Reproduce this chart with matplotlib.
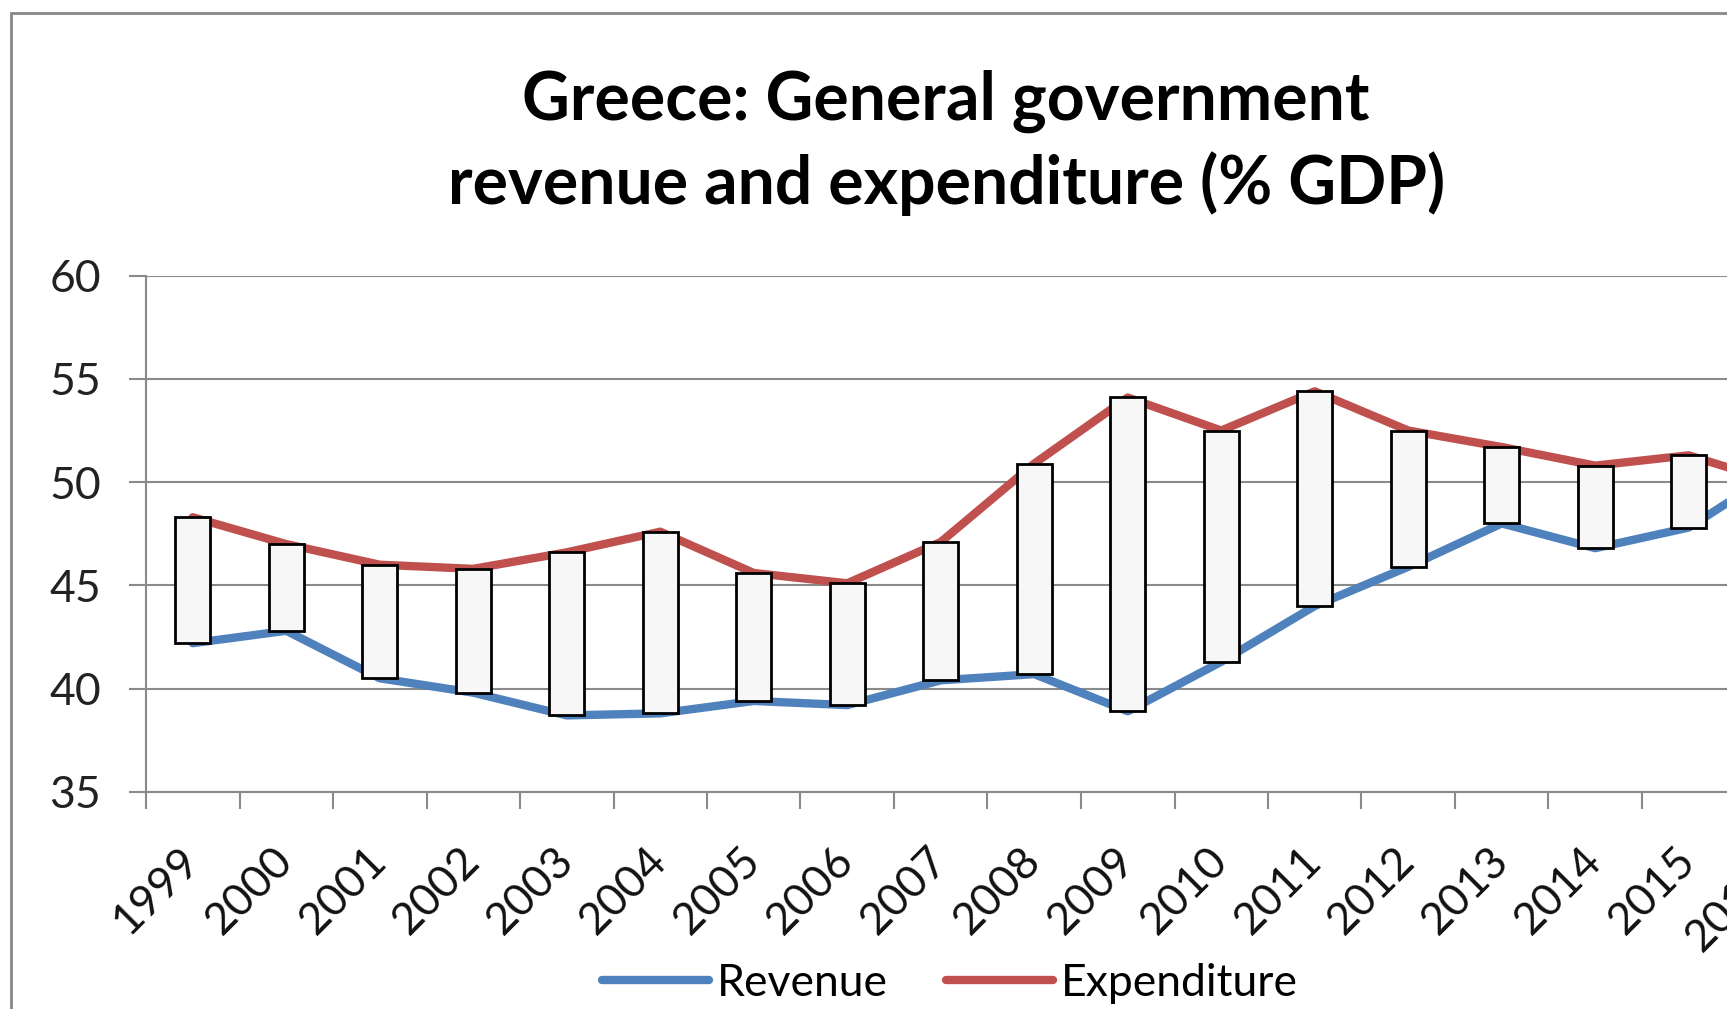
import numpy as np
import matplotlib
matplotlib.use("Agg")
import matplotlib.pyplot as plt
from matplotlib.patches import Rectangle
from matplotlib.ticker import FixedLocator, NullFormatter

# General government revenue and expenditure, % of GDP
years = ["1999", "2000", "2001", "2002", "2003", "2004", "2005", "2006", "2007",
         "2008", "2009", "2010", "2011", "2012", "2013", "2014", "2015", "2016e"]
revenue = [42.2, 42.8, 40.5, 39.8, 38.7, 38.8, 39.4, 39.2, 40.4,
           40.7, 38.9, 41.3, 44.0, 45.9, 48.0, 46.8, 47.8, 50.7]
expenditure = [48.3, 47.0, 46.0, 45.8, 46.6, 47.6, 45.6, 45.1, 47.1,
               50.9, 54.1, 52.5, 54.4, 52.5, 51.7, 50.8, 51.3, 49.9]

W, H = 1727, 1009
BLUE = "#4F81BD"
RED = "#C0504D"
GRID = "#8a8a8a"
FONT = "Lato"

plt.rcParams["font.family"] = [FONT, "DejaVu Sans"]

fig = plt.figure(figsize=(W / 100, H / 100), dpi=100)
fig.patch.set_facecolor("white")

# plot area (extends past the right edge of the canvas)
left_px, top_px, bottom_px = 146, 275.7, 791.8
slot_px = 93.5
ax = fig.add_axes([left_px / W, 1 - bottom_px / H,
                   slot_px * len(years) / W, (bottom_px - top_px) / H])

x = np.arange(len(years))
rev = np.array(revenue)
exp_ = np.array(expenditure)

ax.plot(x, rev, color=BLUE, lw=6.0, solid_joinstyle="round",
        solid_capstyle="round", zorder=3, label="Revenue")
ax.plot(x, exp_, color=RED, lw=6.0, solid_joinstyle="round",
        solid_capstyle="round", zorder=3, label="Expenditure")

# up/down bars between the two series
lo = np.minimum(rev, exp_)
hi = np.maximum(rev, exp_)
ax.bar(x, hi - lo, bottom=lo, width=0.37, color="#f7f7f7",
       edgecolor="black", linewidth=2.0, zorder=4)

ax.set_xlim(-0.5, len(years) - 0.5)
ax.set_ylim(35, 60)
ax.set_yticks([35, 40, 45, 50, 55, 60])
ax.yaxis.grid(True, color=GRID, lw=1.5)
ax.set_axisbelow(True)

for s in ["top", "right"]:
    ax.spines[s].set_visible(False)
for s in ["left", "bottom"]:
    ax.spines[s].set_color(GRID)
    ax.spines[s].set_linewidth(1.5)

ax.tick_params(axis="y", direction="out", length=12.5, width=1.5, color=GRID,
               labelsize=32, labelcolor="#222222", pad=20)

ax.set_xticks(x)
ax.set_xticklabels(years, rotation=45, ha="right", va="center",
                   rotation_mode="anchor", fontsize=32, color="#111111")
ax.tick_params(axis="x", which="major", length=0, pad=45)
ax.xaxis.set_minor_locator(FixedLocator(np.arange(-0.5, len(years), 1.0)))
ax.xaxis.set_minor_formatter(NullFormatter())
ax.tick_params(axis="x", which="minor", direction="out", length=12, width=1.5,
               color=GRID)

# title
fig.text(946 / W, 1 - 120 / H, "Greece: General government", ha="center",
         va="baseline", fontsize=47.5, fontweight="bold", color="black")
fig.text(947 / W, 1 - 204 / H, "revenue and expenditure (% GDP)", ha="center",
         va="baseline", fontsize=47.5, fontweight="bold", color="black")

# legend
fig.legend(loc="center", bbox_to_anchor=(950 / W, 1 - 983 / H), ncol=2,
           frameon=False, fontsize=32, handlelength=2.4, handletextpad=0.18,
           columnspacing=1.3, borderpad=0, borderaxespad=0)

# chart border
fig.add_artist(Rectangle((11 / W, -0.2), 1.5, 0.2 + 1 - 13.3 / H,
                         transform=fig.transFigure, fill=False,
                         edgecolor="#878787", linewidth=2.0, zorder=10))

fig.savefig("out.png", dpi=100)
